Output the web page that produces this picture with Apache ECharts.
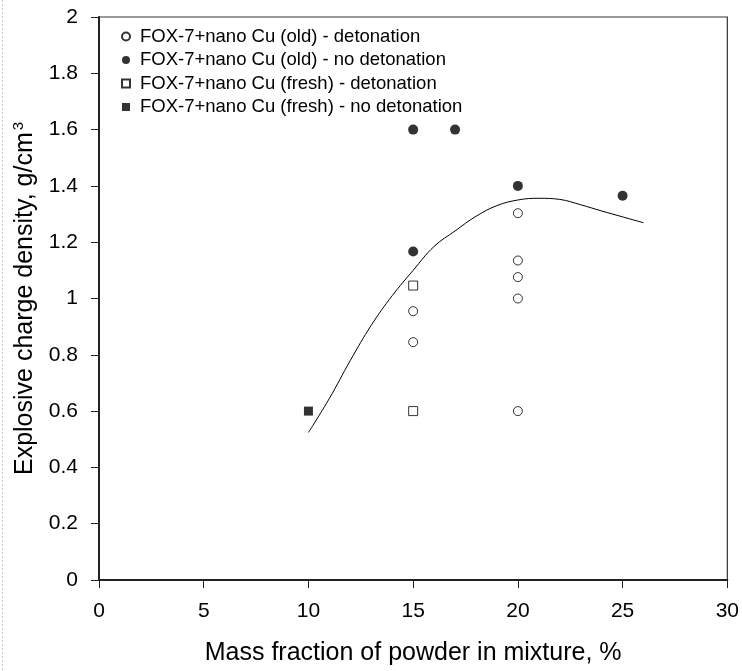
<!DOCTYPE html>
<html>
<head>
<meta charset="utf-8">
<script src="https://cdn.jsdelivr.net/npm/echarts@6/dist/echarts.min.js"></script>
<style>
  html, body { margin: 0; padding: 0; background: #fff; }
  #chart { width: 742px; height: 671px; }
</style>
</head>
<body>
<div id="chart"></div>
<script>
// measured points: [mass fraction %, density g/cm3]
const oldDetonation = [[15, 0.955], [15, 0.845], [20, 1.303], [20, 1.135], [20, 1.076], [20, 1.0], [20, 0.6]]
const oldNoDetonation = [[15, 1.6], [17, 1.6], [15, 1.167], [20, 1.4], [25, 1.365]]
const freshDetonation = [[15, 1.046], [15, 0.6]]
const freshNoDetonation = [[10, 0.6]]

// fitted boundary curve
const curveX = [10, 11, 12, 13, 14, 15, 16, 17, 18, 19, 20, 21, 22, 23, 24, 25, 26]
const curveY = [0.524, 0.645, 0.78, 0.905, 1.01, 1.1, 1.185, 1.24, 1.292, 1.33, 1.35, 1.356, 1.352, 1.333, 1.311, 1.29, 1.269]

const legendNames = [
  'FOX-7+nano Cu (old) - detonation',
  'FOX-7+nano Cu (old) - no detonation',
  'FOX-7+nano Cu (fresh) - detonation',
  'FOX-7+nano Cu (fresh) - no detonation'
]

const font = 'Liberation Sans, Arial, sans-serif'
const chart = echarts.init(document.getElementById('chart'))

const openStyle = { color: '#fff', borderColor: '#000', borderWidth: 1 }
const filledStyle = { color: '#000', borderColor: '#000', borderWidth: 0 }

chart.setOption({
  animation: false,
  backgroundColor: '#fff',
  textStyle: { fontFamily: font, color: '#000' },
  graphic: [{
    type: 'line',
    shape: { x1: 2.5, y1: 0, x2: 2.5, y2: 671 },
    style: { stroke: '#ccc', lineWidth: 1, lineDash: [2, 2] }
  }],
  grid: {
    left: 99,
    right: 14,
    top: 17,
    bottom: 86,
    show: true,
    borderColor: '#333',
    borderWidth: 1.2
  },
  legend: {
    orient: 'vertical',
    left: 116,
    top: 22,
    itemWidth: 8,
    itemHeight: 8,
    itemGap: 4.5,
    data: legendNames,
    textStyle: { fontFamily: font, fontSize: 18.5, color: '#000', lineHeight: 19, padding: [0, 0, 0, 5] }
  },
  xAxis: {
    type: 'value',
    min: 0,
    max: 30,
    interval: 5,
    name: 'Mass fraction of powder in mixture, %',
    nameLocation: 'middle',
    nameGap: 61,
    nameTextStyle: { fontFamily: font, fontSize: 25, color: '#000' },
    axisLine: { lineStyle: { color: '#222', width: 2 } },
    axisTick: { inside: false, length: 8, lineStyle: { color: '#222', width: 1 } },
    axisLabel: { margin: 21, fontFamily: font, fontSize: 21, color: '#000' },
    splitLine: { show: false }
  },
  yAxis: {
    type: 'value',
    min: 0,
    max: 2,
    interval: 0.2,
    name: 'Explosive charge density, g/cm{sup|3}',
    nameLocation: 'middle',
    nameGap: 53,
    nameRotate: 90,
    nameTextStyle: {
      fontFamily: font,
      fontSize: 25,
      color: '#000',
      rich: { sup: { fontFamily: font, fontSize: 15, color: '#000', padding: [0, 0, 14, 2] } }
    },
    axisLine: { lineStyle: { color: '#222', width: 2 } },
    axisTick: { inside: false, length: 8, lineStyle: { color: '#222', width: 1 } },
    axisLabel: { margin: 21, fontFamily: font, fontSize: 21, color: '#000' },
    splitLine: { show: false }
  },
  series: [
    {
      name: legendNames[0],
      type: 'scatter',
      symbol: 'circle',
      symbolSize: 9,
      itemStyle: openStyle,
      data: oldDetonation,
      z: 3
    },
    {
      name: legendNames[1],
      type: 'scatter',
      symbol: 'circle',
      symbolSize: 10,
      itemStyle: filledStyle,
      data: oldNoDetonation,
      z: 3
    },
    {
      name: legendNames[2],
      type: 'scatter',
      symbol: 'rect',
      symbolSize: 9,
      itemStyle: openStyle,
      data: freshDetonation,
      z: 3
    },
    {
      name: legendNames[3],
      type: 'scatter',
      symbol: 'rect',
      symbolSize: 9,
      itemStyle: filledStyle,
      data: freshNoDetonation,
      z: 3
    },
    {
      name: 'fit',
      type: 'line',
      smooth: 0.4,
      showSymbol: false,
      symbol: 'none',
      lineStyle: { color: '#000', width: 1 },
      data: curveX.map((x, i) => [x, curveY[i]]),
      z: 2
    }
  ]
})
</script>
</body>
</html>
